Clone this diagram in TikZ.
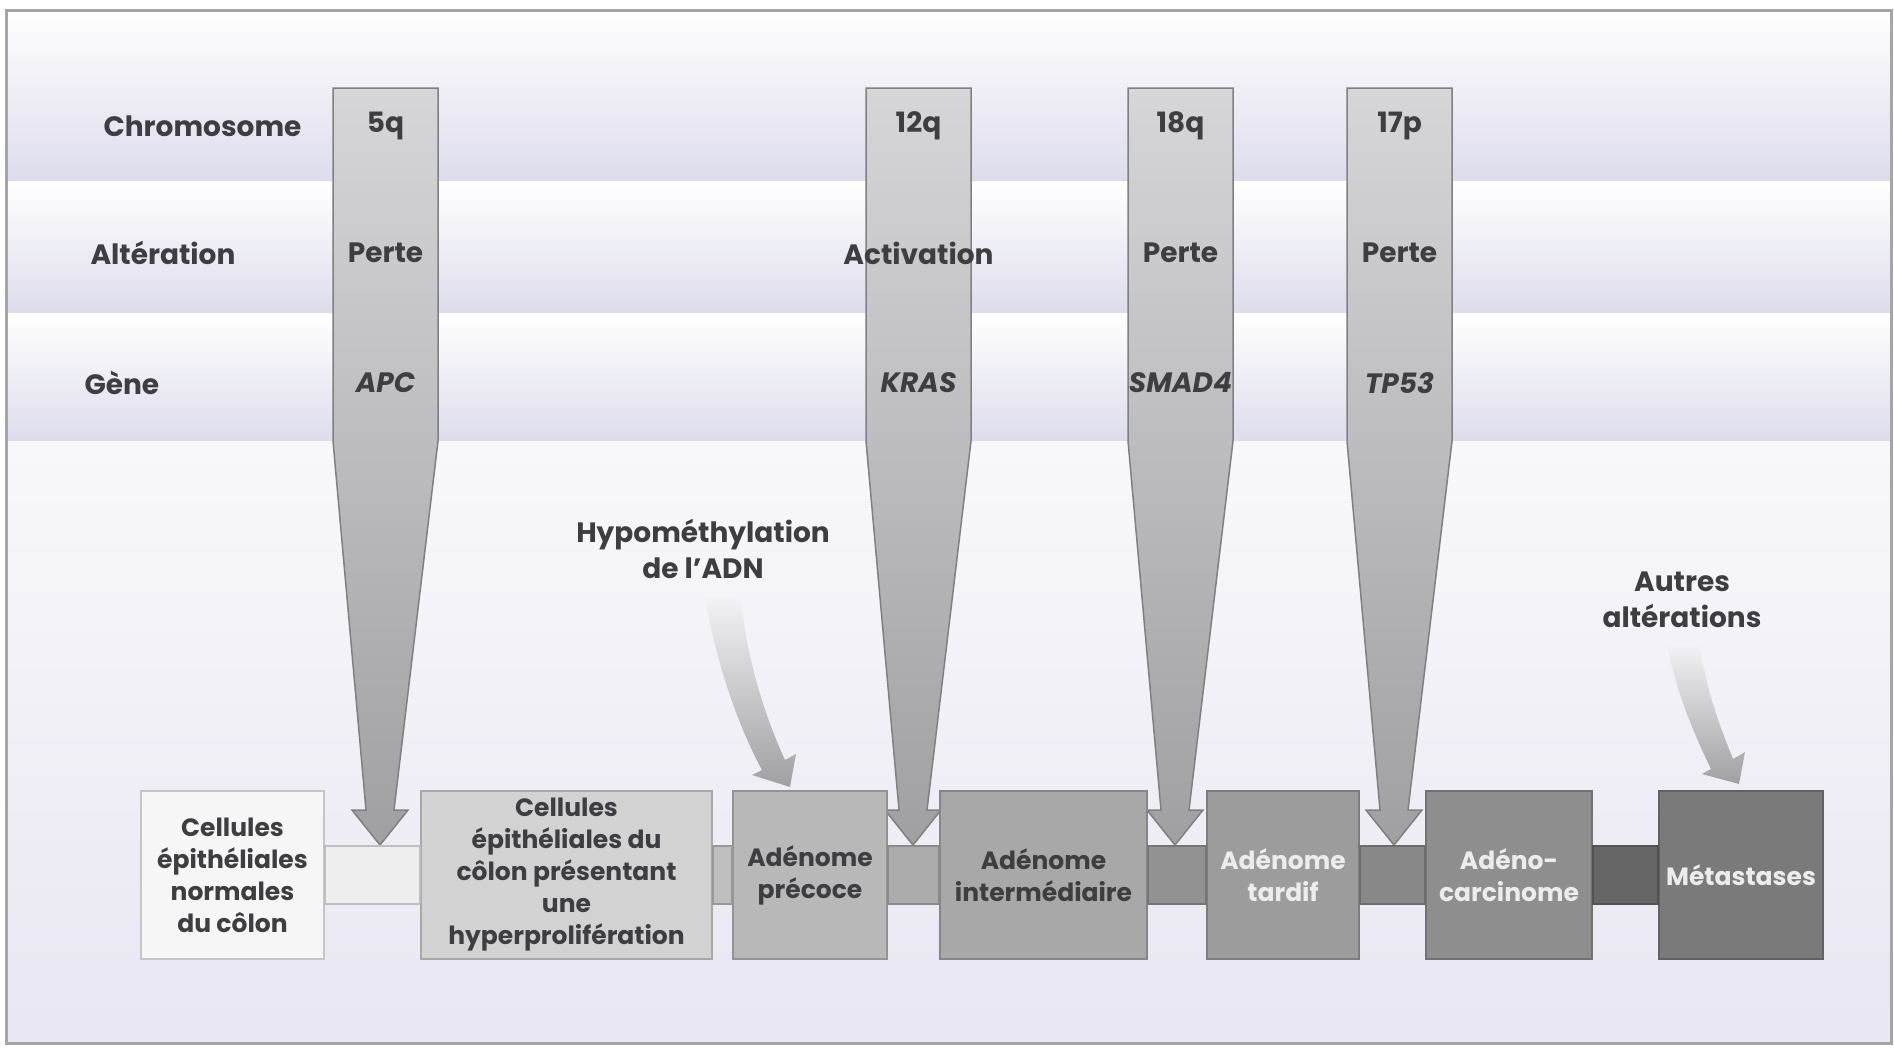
\documentclass[tikz,border=0pt]{standalone}
\usepackage{fontspec}
\setmainfont{Poppins}

\definecolor{lavband}{RGB}{221,220,236}
\definecolor{lavlow}{RGB}{232,231,242}
\definecolor{framecol}{RGB}{165,165,168}
\definecolor{txtdark}{RGB}{62,62,66}
\definecolor{txtlight}{RGB}{236,236,236}
\definecolor{arrowtop}{RGB}{214,214,216}
\definecolor{arrowbot}{RGB}{160,160,162}
\definecolor{arrowedge}{RGB}{128,128,130}
\definecolor{fadetop}{RGB}{242,242,246}
% stages, from normal mucosa to metastases
\definecolor{st1}{RGB}{246,246,246}
\definecolor{st2}{RGB}{210,210,210}
\definecolor{st3}{RGB}{184,184,184}
\definecolor{st4}{RGB}{168,168,168}
\definecolor{st5}{RGB}{156,156,156}
\definecolor{st6}{RGB}{142,142,142}
\definecolor{st7}{RGB}{122,122,122}
% links between the stages
\definecolor{lk1}{RGB}{238,238,238}
\definecolor{lk2}{RGB}{190,190,190}
\definecolor{lk3}{RGB}{172,172,172}
\definecolor{lk4}{RGB}{146,146,146}
\definecolor{lk5}{RGB}{136,136,136}
\definecolor{lk6}{RGB}{102,102,102}

\tikzset{
    rowlabel/.style={anchor=west, text=txtdark, font=\bfseries\fontsize{28}{32}\selectfont},
    mutlabel/.style={text=txtdark, font=\bfseries\fontsize{28}{32}\selectfont},
    arrowbody/.style={draw=arrowedge, line width=1.5pt, top color=arrowtop, bottom color=arrowbot},
    stage/.style={fill=#1, draw=#1!80!black, line width=2pt, minimum height=168pt,
        align=center, inner sep=2pt, text=txtdark, font=\bfseries\fontsize{25}{32}\selectfont},
    link/.style={fill=#1, draw=#1!80!black, line width=2pt},
    softarrow/.style={top color=fadetop, bottom color=arrowbot},
    note/.style={text=txtdark, align=center, font=\bfseries\fontsize{28}{36}\selectfont}
}

\begin{document}
\begin{tikzpicture}[x=1pt, y=-1pt]
    \useasboundingbox (0,0) rectangle (1894,1047);

    % Background: three shaded rows and the lower field
    \fill[white] (0,0) rectangle (1894,1047);
    \shade[top color=white, bottom color=lavband] (6,10) rectangle (1891,181);
    \shade[top color=white, bottom color=lavband] (6,181) rectangle (1891,313);
    \shade[top color=white, bottom color=lavband] (6,313) rectangle (1891,441);
    \shade[top color=white!70!lavlow, bottom color=lavlow] (6,441) rectangle (1891,1043);
    \draw[framecol, line width=3pt] (6,10) rectangle (1891,1043);

    % Row titles
    \node[rowlabel] (chrom) at (100,126) {Chromosome};
    \node[rowlabel] (alter) at (87,253) {Altération};
    \node[rowlabel] (gene) at (81,383) {Gène};

    % The four big arrows: x of the tip, name, chromosome, alteration, gene
    \foreach \cx/\nm/\chr/\alt/\gen in {380/apc/5q/Perte/APC, 913/kras/12q/Activation/KRAS,
                                        1175/smad/18q/Perte/SMAD4, 1394/tp/17p/Perte/TP53} {
        \path[arrowbody] (\cx-47,88) -- (\cx+58,88) -- (\cx+58,441) -- (\cx+14,810)
            -- (\cx+28,810) -- (\cx,845) -- (\cx-28,810) -- (\cx-14,810) -- (\cx-47,441) -- cycle;
        \node[mutlabel] (\nm-chr) at (\cx+5.5,126) {\chr};
        \node[mutlabel] (\nm-alt) at (\cx+5.5,253) {\alt};
        \node[mutlabel] (\nm-gen) at (\cx+5.5,383) {\itshape\gen};
    }

    % Stages
    \node[stage=st1, minimum width=183pt] (normal) at (232.5,875) {Cellules\\épithéliales\\normales\\du côlon};
    \node[stage=st2, minimum width=291pt] (hyper) at (566.5,875) {Cellules\\épithéliales du\\côlon présentant\\une\\hyperprolifération};
    \node[stage=st3, minimum width=154pt] (early) at (810,875) {Adénome\\précoce};
    \node[stage=st4, minimum width=207pt] (inter) at (1043.5,875) {Adénome\\intermédiaire};
    \node[stage=st5, text=txtlight, minimum width=152pt] (late) at (1283,875) {Adénome\\tardif};
    \node[stage=st6, text=txtlight, minimum width=166pt] (carci) at (1509,875) {Adéno-\\carcinome};
    \node[stage=st7, text=txtlight, minimum width=164pt] (meta) at (1741,875) {Métastases};

    % Links between the stages
    \foreach \a/\b/\c in {normal/hyper/lk1, hyper/early/lk2, early/inter/lk3,
                          inter/late/lk4, late/carci/lk5, carci/meta/lk6} {
        \draw[link=\c] ([yshift=29pt]\a.east) rectangle ([yshift=-29pt]\b.west);
    }

    % Other events
    \node[note] (hypo) at (703,549) {Hypométhylation\\de l’ADN};
    \node[note] (autres) at (1682,600) {Autres\\altérations};

    \shade[softarrow] (705,598) .. controls (716,660) and (736,722) .. (762,770) -- (752,775)
        -- (790,787) -- (796,754) -- (785,760) .. controls (764,714) and (746,656) .. (741,598) -- cycle;
    \shade[softarrow] (1667,645) .. controls (1676,690) and (1692,730) .. (1711,769) -- (1702,774)
        -- (1739,784) -- (1745,752) -- (1733,759) .. controls (1718,722) and (1705,685) .. (1700,645) -- cycle;
\end{tikzpicture}
\end{document}
